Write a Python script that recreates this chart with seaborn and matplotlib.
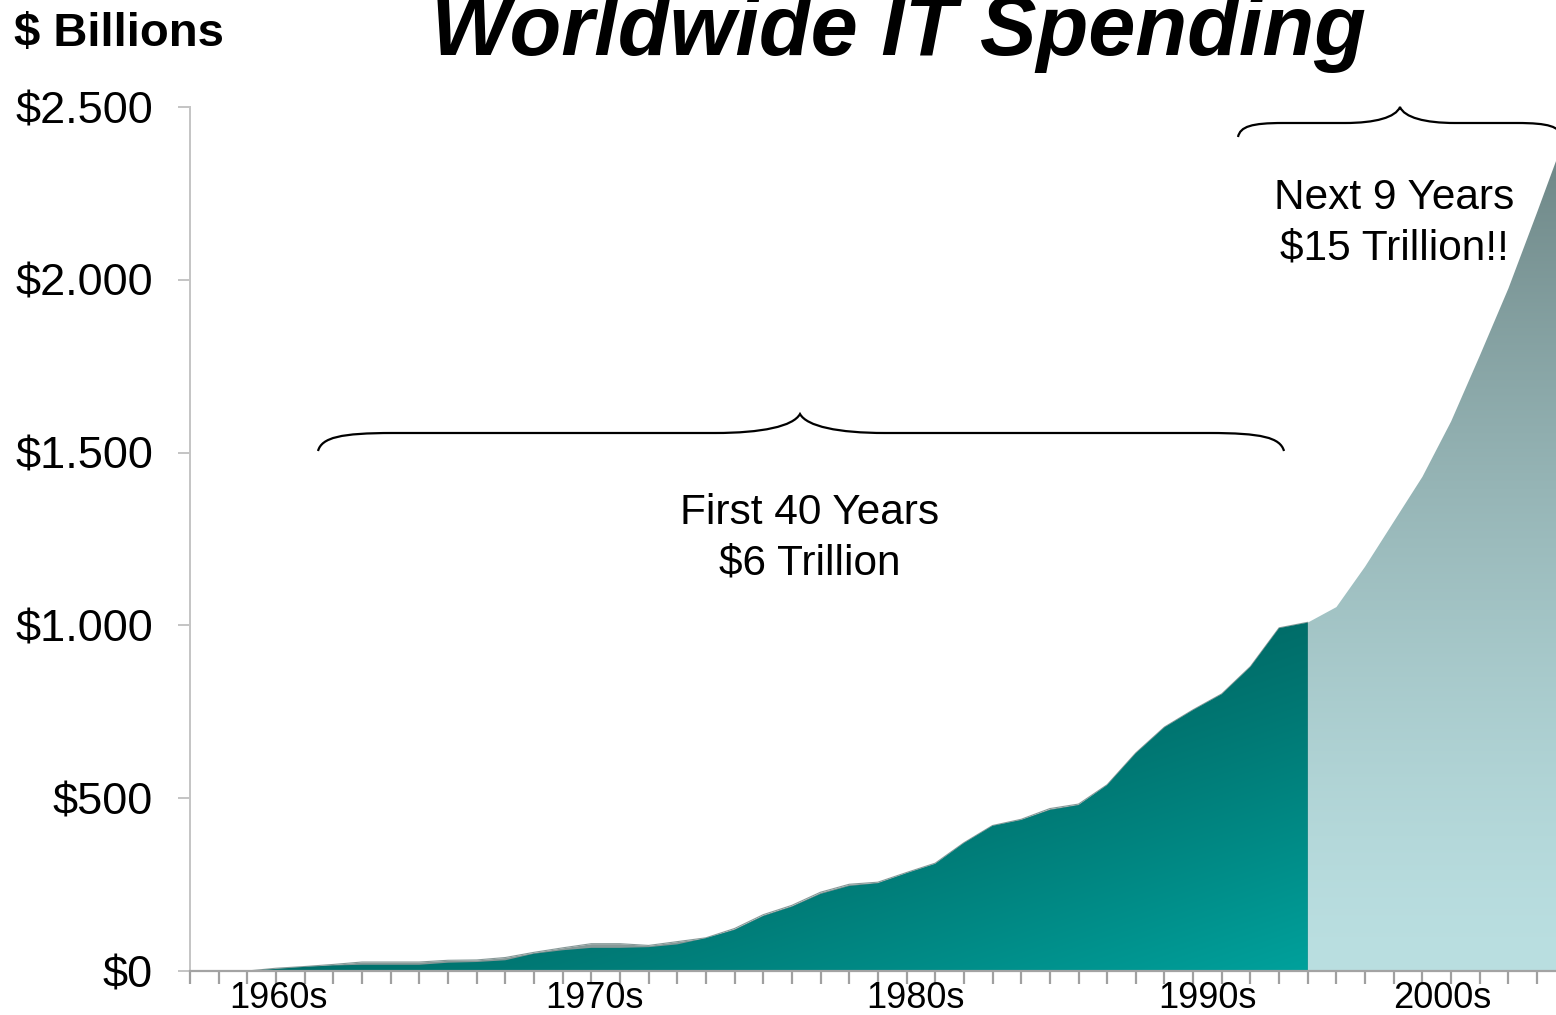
import numpy as np
import matplotlib
matplotlib.use("Agg")
import matplotlib.pyplot as plt
import matplotlib.transforms as mtransforms
from matplotlib.path import Path
from matplotlib.patches import PathPatch
from matplotlib.colors import to_rgb
import seaborn as sns

# ---- data ($ billions per year) ----
axis_years = list(range(1958, 2006))

history_years = list(range(1960, 1998))
history_spend = [0, 6, 12, 16, 18, 18, 18, 24, 26, 31,
                 50, 60, 67, 67, 69, 77, 95, 119, 159, 186,
                 223, 246, 254, 283, 310, 370, 420, 437, 466, 480,
                 538, 630, 705, 755, 801, 880, 992, 1008]
history_total = [0, 8, 13, 19, 26, 26, 26, 31, 32, 39,
                 54, 67, 79, 79, 74, 85, 96, 123, 163, 190,
                 228, 251, 257, 285, 312, 371, 421, 439, 470, 483,
                 539, 631, 706, 756, 802, 881, 993, 1009]

outlook_years = list(range(1997, 2007))
outlook_spend = [1008, 1053, 1170, 1300, 1430, 1590, 1780, 1975, 2195, 2420]

y_ticks = [0, 500, 1000, 1500, 2000, 2500]
y_tick_labels = ["$0", "$500", "$1.000", "$1.500", "$2.000", "$2.500"]
decade_labels = ["1960s", "1970s", "1980s", "1990s", "2000s"]
decade_label_years = [1961.1, 1972.1, 1983.3, 1993.5, 2001.7]

# ---- style ----
sns.set_theme(style="white")
plt.rcParams["font.family"] = ["Liberation Sans", "DejaVu Sans"]
plt.rcParams["text.parse_math"] = False
plt.rcParams["text.color"] = "black"

W, H = 1556, 1015
fig = plt.figure(figsize=(W / 100, H / 100), dpi=100)
px = mtransforms.Affine2D().scale(1 / W, -1 / H).translate(0, 1) + fig.transFigure

ax = fig.add_axes([190 / W, 1 - 971 / H, (W - 190) / W, (971 - 107) / H])
ax.set_facecolor("white")

x_lo, x_hi = 1958, 1958 + 47.66


def area_patch(xs, ys):
    verts = [(xs[0], 0)] + list(zip(xs, ys)) + [(xs[-1], 0), (xs[0], 0)]
    patch = PathPatch(Path(verts, closed=True), transform=ax.transData,
                      facecolor="none", edgecolor="none")
    ax.add_patch(patch)
    return patch


def blend(c0, c1, f):
    c0 = np.array(to_rgb(c0))
    c1 = np.array(to_rgb(c1))
    return c0[None, None, :] + f[..., None] * (c1 - c0)[None, None, :]


# total spending (grey backdrop)
grey = "#889998"
ax.fill_between(history_years, history_total, 0, color=grey, lw=0, zorder=1)
sns.lineplot(x=history_years, y=history_total, ax=ax, color=grey,
             linewidth=0.8, zorder=1.5)

# historical spending: diagonal teal gradient
top = max(history_spend)
n = 400
u = np.linspace(0, 1, n)[None, :]
v = np.linspace(0, 1, n)[:, None]
t = (u + v) / 2
f = np.clip((t - 0.45) / 0.55, 0, 1) ** 1.15
img = blend("#006a66", "#00a19c", f)
im = ax.imshow(img, extent=[history_years[0], history_years[-1], 0, top],
               origin="upper", aspect="auto", interpolation="bilinear", zorder=2)
im.set_clip_path(area_patch(history_years, history_spend))

# outlook: vertical grey-teal to pale cyan gradient
top2 = max(outlook_spend)
s = np.linspace(1, 0, n)[:, None] * np.ones((1, 50))
f2 = s ** 1.4
img2 = blend("#badfe1", "#6c8484", f2)
im2 = ax.imshow(img2, extent=[outlook_years[0], outlook_years[-1], 0, top2],
                origin="upper", aspect="auto", interpolation="bilinear", zorder=2)
im2.set_clip_path(area_patch(outlook_years, outlook_spend))

ax.set_xlim(x_lo, x_hi)
ax.set_ylim(0, 2500)

# ---- axes ----
for side in ("top", "right"):
    ax.spines[side].set_visible(False)
ax.spines["left"].set_color("#c4c4c4")
ax.spines["left"].set_linewidth(1.4)
ax.spines["bottom"].set_color("#a3a3a3")
ax.spines["bottom"].set_linewidth(1.6)
ax.spines["bottom"].set_zorder(3)

ax.set_yticks(y_ticks)
ax.set_yticklabels(y_tick_labels)
ax.tick_params(axis="y", direction="out", length=8.6, width=1.4,
               color="#c4c4c4", pad=18, labelsize=32.5, labelcolor="black", left=True)
ax.set_xticks(axis_years)
ax.set_xticklabels([])
ax.tick_params(axis="x", direction="out", length=9.5, width=1.6,
               color="#a0a0a0", bottom=True)
ax.grid(False)

for lab, yr in zip(decade_labels, decade_label_years):
    ax.text(yr, -0.0315, lab, transform=ax.get_xaxis_transform(),
            ha="center", va="center", fontsize=26, color="black")

# ---- titles ----
fig.text(898, 55, "Worldwide IT Spending", transform=px, ha="center",
         va="baseline", fontsize=61, fontweight="bold", fontstyle="italic",
         color="black")
fig.text(14, 46, "$ Billions", transform=px, ha="left", va="baseline",
         fontsize=34, fontweight="bold", color="black")


# ---- braces and notes ----
def brace(x0, x1, xm, yh, ytip, yend, r_end, r_mid, lw=1.6):
    dy = yh - ytip
    verts = [
        (x0, yend),
        (x0 + 0.05 * r_end, yh + 0.25 * (yend - yh)), (x0 + 0.3 * r_end, yh), (x0 + r_end, yh),
        (xm - r_mid, yh),
        (xm - 0.45 * r_mid, yh), (xm - 0.08 * r_mid, yh - 0.35 * dy), (xm, ytip),
        (xm + 0.08 * r_mid, yh - 0.35 * dy), (xm + 0.45 * r_mid, yh), (xm + r_mid, yh),
        (x1 - r_end, yh),
        (x1 - 0.3 * r_end, yh), (x1 - 0.05 * r_end, yh + 0.25 * (yend - yh)), (x1, yend),
    ]
    codes = ([Path.MOVETO] + [Path.CURVE4] * 3 + [Path.LINETO] + [Path.CURVE4] * 6
             + [Path.LINETO] + [Path.CURVE4] * 3)
    fig.add_artist(PathPatch(Path(verts, codes), transform=px, facecolor="none",
                             edgecolor="black", lw=lw))


brace(318, 1284, 800, 433, 414, 451, 75, 85)
brace(1238, 1562, 1400, 123, 107, 137, 45, 55)

note_kw = dict(transform=px, ha="center", va="center", fontsize=30.5, color="black")
fig.text(810, 513, "First 40 Years", **note_kw)
fig.text(810, 564, "$6 Trillion", **note_kw)
fig.text(1394, 198, "Next 9 Years", **note_kw)
fig.text(1394, 249, "$15 Trillion!!", **note_kw)

fig.savefig("out.png", dpi=100, facecolor="white")
